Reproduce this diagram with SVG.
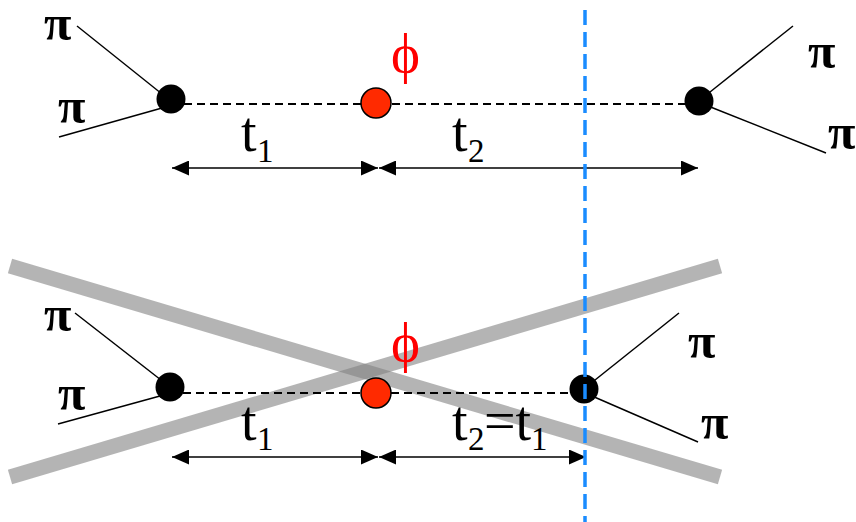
<svg xmlns="http://www.w3.org/2000/svg" width="856" height="522" viewBox="0 0 856 522">
<defs>
<marker id="ah" viewBox="0 0 17 15" refX="17" refY="7.5" markerWidth="17" markerHeight="15" markerUnits="userSpaceOnUse" orient="auto-start-reverse">
<path d="M0,0 L17,7.5 L0,15 Z" fill="#000"/>
</marker>
</defs>
<style>
.pi{font-family:"Liberation Serif","Times New Roman",serif;font-size:50px;font-weight:bold;fill:#000}
.t{font-family:"Liberation Serif","Times New Roman",serif;font-size:56px;fill:#000}
.sub{font-size:33px}
.phi{font-family:"Liberation Serif","Times New Roman",serif;font-size:55px;fill:#ff0000}
.leg{stroke:#000;stroke-width:1.5;fill:none}
.dash{stroke:#000;stroke-width:1.8;stroke-dasharray:8,5;fill:none}
.arr{stroke:#000;stroke-width:1.5;fill:none;marker-start:url(#ah);marker-end:url(#ah)}
.bar{stroke:#828282;stroke-opacity:0.6;stroke-width:15;fill:none}
.blk{fill:#000}
.red{fill:#ff2a00;stroke:#000;stroke-width:1.5}
.blue{stroke:#1a8cff;stroke-width:3.5;stroke-dasharray:15,7;fill:none}
</style>
<g id="bars">
<line class="bar" x1="10" y1="266" x2="720" y2="477"/>
<line class="bar" x1="10" y1="477" x2="720" y2="266"/>
</g>
<g id="connectors">
<line class="dash" x1="171" y1="104" x2="699" y2="104"/>
<line class="dash" x1="170" y1="393" x2="584" y2="393"/>
<line class="leg" x1="77" y1="26" x2="162" y2="94"/>
<line class="leg" x1="59" y1="137" x2="162" y2="108"/>
<line class="leg" x1="793" y1="26" x2="705" y2="96"/>
<line class="leg" x1="826" y1="153" x2="708" y2="106"/>
<line class="leg" x1="75" y1="313" x2="161" y2="380"/>
<line class="leg" x1="58" y1="424" x2="160" y2="396"/>
<line class="leg" x1="679" y1="313" x2="590" y2="384"/>
<line class="leg" x1="698" y1="442" x2="592" y2="396"/>
<line class="arr" x1="172" y1="168" x2="378" y2="168"/>
<line class="arr" x1="379" y1="168" x2="698" y2="168"/>
<line class="arr" x1="172" y1="457" x2="378" y2="457"/>
<line class="arr" x1="379" y1="457" x2="586" y2="457"/>
</g>
<g id="top-left-vertex"><circle class="blk" cx="171" cy="99" r="14.5"/></g>
<g id="top-phi"><circle class="red" cx="376" cy="103" r="15"/></g>
<g id="top-right-vertex"><circle class="blk" cx="699" cy="101" r="14.5"/></g>
<g id="bottom-left-vertex"><circle class="blk" cx="170" cy="387" r="14.5"/></g>
<g id="bottom-phi"><circle class="red" cx="376" cy="393" r="15"/></g>
<g id="bottom-right-vertex"><circle class="blk" cx="584" cy="389" r="14.5"/></g>
<g id="labels">
<text class="pi" x="44" y="40">π</text>
<text class="pi" x="58" y="123">π</text>
<text class="pi" x="808" y="68">π</text>
<text class="pi" x="828" y="149">π</text>
<text class="pi" x="44" y="331">π</text>
<text class="pi" x="58" y="410">π</text>
<text class="pi" x="688" y="358">π</text>
<text class="pi" x="701" y="439">π</text>
<text class="phi" x="391" y="72">ϕ</text>
<text class="phi" x="391" y="361">ϕ</text>
<text class="t" x="241" y="151">t<tspan class="sub" x="257" y="162">1</tspan></text>
<text class="t" x="452" y="151">t<tspan class="sub" x="468" y="162">2</tspan></text>
<text class="t" x="241" y="440">t<tspan class="sub" x="257" y="450">1</tspan></text>
<text class="t" x="452" y="440">t<tspan class="sub" x="468" y="450">2</tspan><tspan x="484" y="440">=t</tspan><tspan class="sub" x="531" y="450">1</tspan></text>
</g>
<g id="cut"><line class="blue" x1="585" y1="10" x2="585" y2="522"/></g>
</svg>
